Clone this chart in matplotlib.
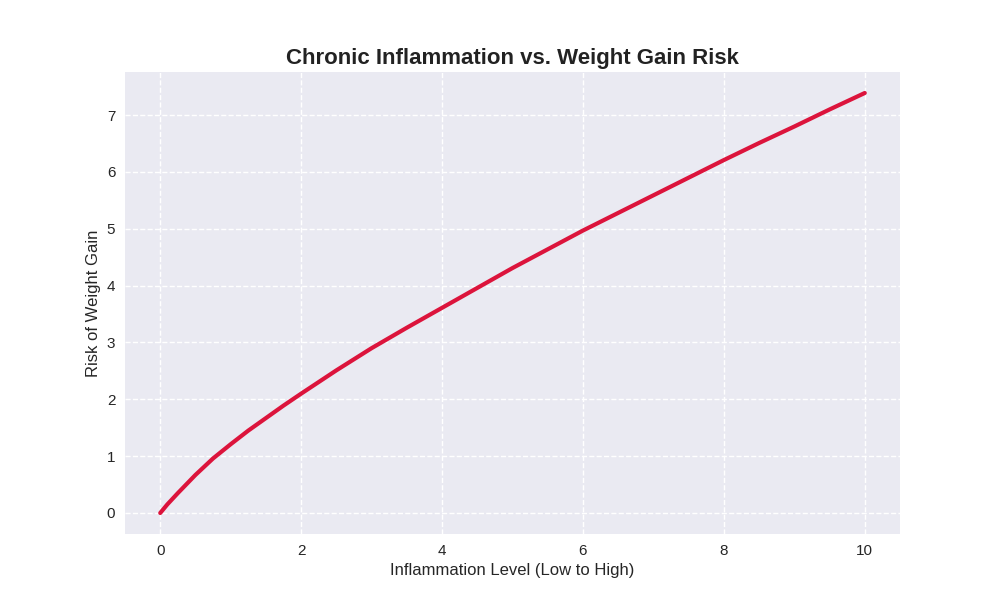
import numpy as np
import matplotlib.pyplot as plt

# valores
nivel_inflamacao = [0, 0.1, 0.25, 0.5, 0.75, 1, 1.25, 1.5, 1.75, 2, 2.5, 3, 3.5, 4, 4.5, 5, 5.5,
                    6, 6.5, 7, 7.5, 8, 8.5, 9, 9.5, 10]
risco_peso = [0, 0.15, 0.35, 0.67, 0.96, 1.21, 1.45, 1.67, 1.89, 2.10, 2.51, 2.90, 3.26, 3.61, 3.96,
              4.31, 4.64, 4.97, 5.28, 5.59, 5.90, 6.21, 6.51, 6.80, 7.10, 7.39]

plt.style.use('seaborn-v0_8-darkgrid')
plt.rcParams['font.family'] = ['Liberation Sans', 'DejaVu Sans']

fig, ax = plt.subplots(figsize=(10, 6), dpi=100)
ax.plot(nivel_inflamacao, risco_peso, color='crimson', linewidth=3)
ax.set_title('Chronic Inflammation vs. Weight Gain Risk', fontsize=16, fontweight='bold', color='#222222')
ax.set_xlabel('Inflammation Level (Low to High)', fontsize=12)
ax.set_ylabel('Risk of Weight Gain', fontsize=12)
ax.tick_params(labelsize=11, pad=7)
ax.grid(True, linestyle='--', color='white', linewidth=1)
fig.savefig('out.png')
